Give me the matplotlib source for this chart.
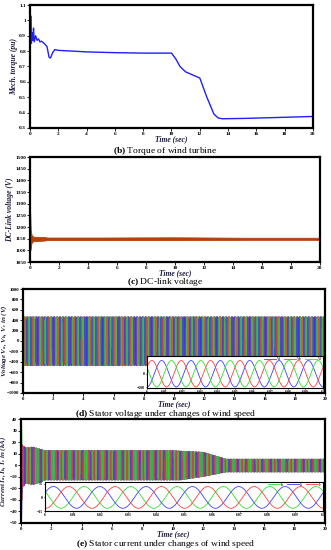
import numpy as np
import matplotlib
matplotlib.use("Agg")
import matplotlib.pyplot as plt
from itertools import permutations

plt.rcParams['font.family'] = ['Liberation Serif', 'DejaVu Serif']
plt.rcParams['mathtext.fontset'] = 'custom'
plt.rcParams['mathtext.rm'] = 'Liberation Serif'
plt.rcParams['mathtext.it'] = 'Liberation Serif:italic:bold'
plt.rcParams['mathtext.bf'] = 'Liberation Serif:bold'

# (b) torque of wind turbine
torque_t = [0, 0.05, 0.1, 0.15, 0.2, 0.25, 0.3, 0.4, 0.5, 0.6, 0.7, 0.8, 1.0, 1.2,
            1.35, 1.45, 1.6, 1.75, 2, 4, 6, 8, 10, 10.3, 10.6, 11, 11.5, 12,
            12.5, 13, 13.3, 13.6, 15, 17, 20]
torque_pu = [0.70, 1.03, 0.85, 0.92, 0.87, 0.95, 0.86, 0.90, 0.87, 0.88, 0.86, 0.865,
             0.85, 0.83, 0.76, 0.755, 0.79, 0.81, 0.805, 0.795, 0.79, 0.787, 0.787,
             0.75, 0.70, 0.665, 0.645, 0.625, 0.50, 0.39, 0.365, 0.36, 0.362, 0.367, 0.375]

# (c) DC-link voltage: band limits
dc_t = [0, 0.02, 0.05, 0.08, 0.12, 0.2, 0.3, 0.5, 1.0, 1.2, 5, 10, 15, 20]
dc_hi = [1280, 1250, 1190, 1175, 1165, 1160, 1158, 1158, 1157, 1155, 1155, 1156, 1154, 1154]
dc_lo = [1150, 1100, 1110, 1125, 1133, 1138, 1140, 1140, 1142, 1144, 1144, 1144, 1145, 1145]

# (d) stator voltage envelope (V)
volt_env_t = [0, 20]
volt_hi = [470, 470]
volt_lo = [-480, -480]

# (e) stator current envelope (kA)
cur_env_t = [0.1, 0.3, 0.8, 1.3, 1.6, 10, 10.5, 12, 13.5, 20]
cur_hi = [18, 15.5, 16, 14, 13, 13, 12.5, 11.5, 5.5, 5.5]
cur_lo = [-20, -16, -17, -15, -13, -13, -13, -10, -6, -6]
# start-up transient peaks of each phase
trans_t = [0, 0.03, 0.06, 0.1]
ia_trans = [0, 40, 15, 12]
ib_trans = [0, -48, -25, -12]
ic_trans = [0, 22, -30, 14]

freq = 60.0  # Hz grid frequency
volt_amp = 480.0
cur_amp = 12.0
# phase angles of peaks in the zoomed windows (deg)
volt_peak = {'Va': 180, 'Vb': 60, 'Vc': 300}
cur_peak = {'Ia': 305, 'Ib': 65, 'Ic': 185}

navy = '#1c1c3c'
lab_font = dict(fontsize=5.5, fontweight='bold', fontstyle='italic', color=navy)
cap_size = 6.8


def frame(ax, lw=1.6, size=3.9):
    for s in ax.spines.values():
        s.set_linewidth(lw)
    ax.tick_params(labelsize=size, length=2, width=0.6, pad=0.8)
    for lbl in ax.get_xticklabels() + ax.get_yticklabels():
        lbl.set_fontweight('bold')


def envelope_wave(t, env_t, hi, lo, peak_deg):
    top = np.interp(t, env_t, hi)
    bot = np.interp(t, env_t, lo)
    return (top + bot) / 2 + (top - bot) / 2 * np.cos(2 * np.pi * freq * t - np.radians(peak_deg))


def dense_three(ax, t, waves, colors, chunk=0.12):
    # short chunks with a shuffled draw order so the colours interleave
    orders = list(permutations(range(3)))
    edges = np.arange(t[0], t[-1] + chunk, chunk)
    for k in range(len(edges) - 1):
        m = (t >= edges[k]) & (t <= edges[k + 1] + 1e-9)
        o = orders[(k * 7 + (k * k) // 3) % 6]
        for z, i in enumerate(o):
            ax.plot(t[m], waves[i][m], color=colors[i], lw=0.3, alpha=0.7, zorder=2 + z * 0.01)


def caption(y, tag, text):
    fig.text(0.5, y, r'$\mathbf{' + tag + '}$ ' + text, ha='center', va='center', fontsize=cap_size)


fig = plt.figure(figsize=(3.31, 5.5), dpi=100)
xt = range(0, 21, 2)

# ---------- (b)
ax = fig.add_axes([0.0906, 0.7673, 0.855, 0.2236])
ax.plot(torque_t, torque_pu, color='#1f1fff', lw=1.0)
ax.set_xlim(0, 20)
ax.set_ylim(0.3, 1.1)
ax.set_xticks(xt)
ax.set_yticks(np.arange(0.3, 1.11, 0.1))
ax.set_yticklabels(['0.3', '0.4', '0.5', '0.6', '0.7', '0.8', '0.9', '1', '1.1'])
frame(ax)
ax.set_ylabel('Mech. torque (pu)', labelpad=1, **lab_font)
ax.set_xlabel('Time (sec)', labelpad=-0.6, **lab_font)
caption(0.725, '(b)', 'Torque of wind turbine')

# ---------- (c)
ax = fig.add_axes([0.0906, 0.5236, 0.876, 0.1909])
ax.fill_between(dc_t, dc_lo, dc_hi, color='#b2430c', lw=0.6)
ax.set_xlim(0, 20)
ax.set_ylim(1050, 1500)
ax.set_xticks(xt)
ax.set_yticks(range(1050, 1501, 50))
frame(ax)
ax.set_ylabel('DC-Link voltage (V)', labelpad=1, **lab_font)
ax.set_xlabel('Time (sec)', labelpad=-0.6, **lab_font)
caption(0.487, '(c)', 'DC-link voltage')

# ---------- (d)
ax = fig.add_axes([0.0695, 0.2855, 0.912, 0.189])
td = np.linspace(0, 20, 7001)
vwaves = [envelope_wave(td, volt_env_t, volt_hi, volt_lo, volt_peak[k]) for k in ['Va', 'Vb', 'Vc']]
dense_three(ax, td, vwaves, ['#3030ff', '#ff3030', '#20e020'])
ax.set_xlim(0, 20)
ax.set_ylim(-1000, 1000)
ax.set_xticks(xt)
ax.set_yticks(range(-1000, 1001, 200))
frame(ax, size=3.5)
ax.set_ylabel(r'Voltage $V_a$, $V_b$, $V_c$ in (V)', fontsize=5.0, fontweight='bold',
              fontstyle='italic', color=navy)
ax.yaxis.set_label_coords(-0.046, 0.5)
ax.set_xlabel('Time (sec)', labelpad=-0.8, **lab_font)

tz = np.linspace(6, 6.1, 600)
ins = fig.add_axes([0.444, 0.2945, 0.532, 0.058])
for name, col in [('Va', '#4040ff'), ('Vb', '#ff4040'), ('Vc', '#30e030')]:
    ins.plot(tz, volt_amp * np.cos(2 * np.pi * freq * tz - np.radians(volt_peak[name])),
             color=col, lw=0.6, label=name)
ins.set_xlim(6, 6.1)
ins.set_ylim(-520, 640)
ins.set_xticks(np.arange(6, 6.101, 0.01))
ins.set_xticklabels(['6'] + ['%.2f' % v for v in np.arange(6.01, 6.095, 0.01)] + ['6.1'])
ins.set_yticks([-500, 0])
frame(ins, lw=0.8)
ins.tick_params(labelsize=2.8, length=1, pad=0.5)
ins.legend(loc='upper right', ncol=3, fontsize=2.8, frameon=False, handlelength=3,
           borderpad=0.1, borderaxespad=0.1, columnspacing=0.8, handletextpad=0.3)
caption(0.247, '(d)', 'Stator voltage under changes of wind speed')

# ---------- (e)
ax = fig.add_axes([0.0634, 0.0491, 0.918, 0.189])
te = np.linspace(0.1, 20, 6967)
cwaves = [envelope_wave(te, cur_env_t, cur_hi, cur_lo, cur_peak[k]) for k in ['Ia', 'Ib', 'Ic']]
ax.plot(trans_t, ic_trans, color='#ff8000', lw=0.8)
ax.plot(trans_t, ia_trans, color='#20e020', lw=0.8)
ax.plot(trans_t, ib_trans, color='#3030ff', lw=0.8)
dense_three(ax, te, cwaves, ['#20e020', '#3030ff', '#ff3030'])
ax.set_xlim(0, 20)
ax.set_ylim(-50, 40)
ax.set_xticks(xt)
ax.set_yticks(range(-50, 41, 10))
frame(ax, size=3.5)
ax.set_ylabel(r'Current $I_a$, $I_b$, $I_c$ in (kA)', fontsize=5.0, fontweight='bold',
              fontstyle='italic', color=navy)
ax.yaxis.set_label_coords(-0.042, 0.5)
ax.set_xlabel('Time (sec)', labelpad=-0.8, **lab_font)

ins = fig.add_axes([0.136, 0.0709, 0.840, 0.0527])
for name, col in [('Ia', '#30e030'), ('Ib', '#4040ff'), ('Ic', '#ff4040')]:
    ins.plot(tz, cur_amp * np.cos(2 * np.pi * freq * tz - np.radians(cur_peak[name])),
             color=col, lw=0.6, label=name)
ins.set_xlim(6, 6.1)
ins.set_ylim(-14, 17)
ins.set_xticks(np.arange(6, 6.101, 0.01))
ins.set_xticklabels(['6'] + ['%.2f' % v for v in np.arange(6.01, 6.095, 0.01)] + ['6.1'])
ins.set_yticks([-15, 0, 15])
frame(ins, lw=0.8)
ins.tick_params(labelsize=2.8, length=1, pad=0.5)
ins.legend(loc='upper right', ncol=3, fontsize=2.8, frameon=False, handlelength=3,
           borderpad=0.1, borderaxespad=0.1, columnspacing=0.8, handletextpad=0.3)
caption(0.010, '(e)', 'Stator current under changes of wind speed')

fig.savefig('out.png', dpi=100)
